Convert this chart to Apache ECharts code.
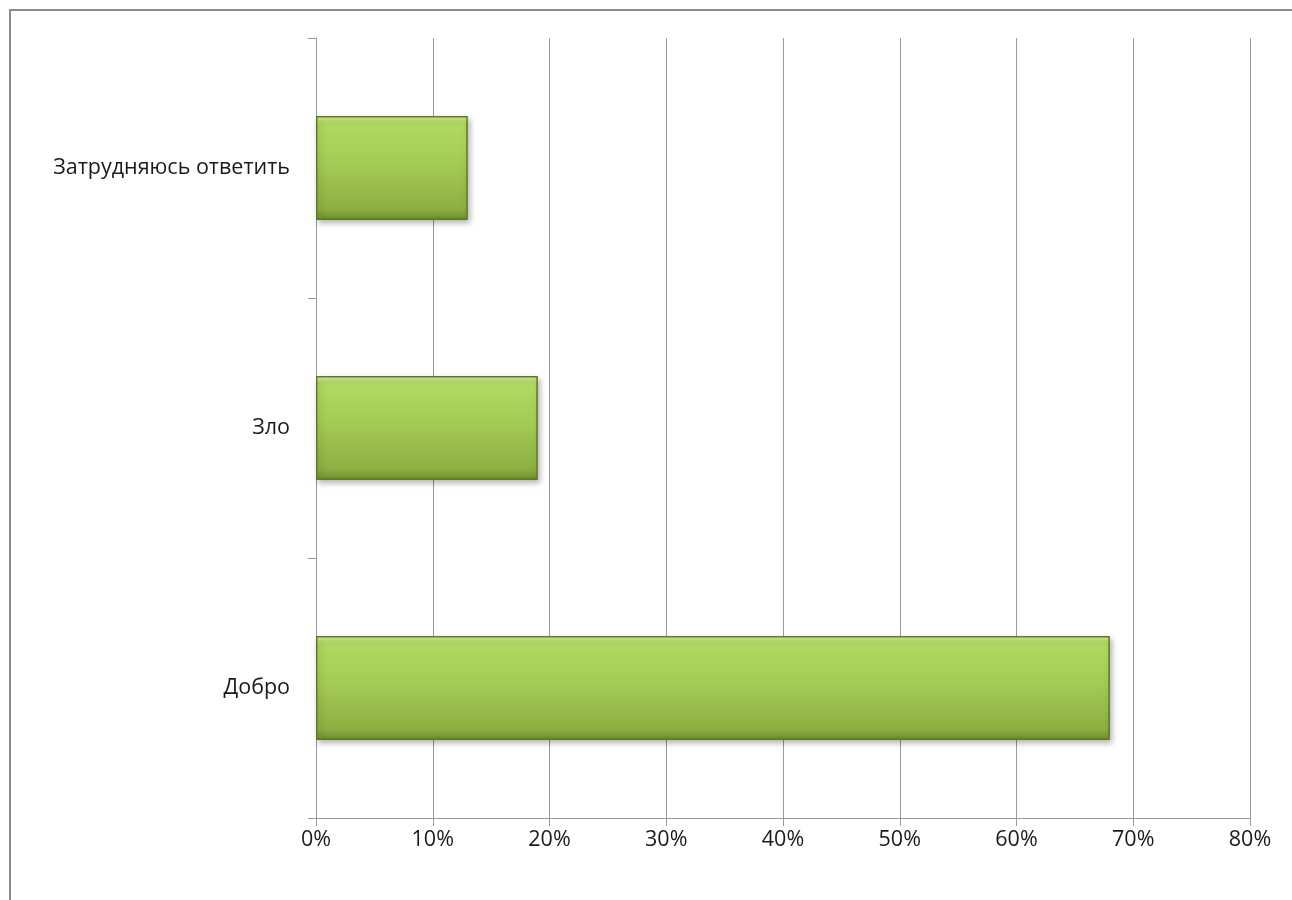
<!DOCTYPE html>
<html><head><meta charset="utf-8">
<script src="https://cdn.jsdelivr.net/npm/echarts@6/dist/echarts.min.js"></script>
<style>html,body{margin:0;padding:0;background:#fff}#c{width:1292px;height:900px}</style>
</head><body><div id="c"></div>
<script>
const categories = ['Добро', 'Зло', 'Затрудняюсь ответить'];
const values = [68, 19, 13];
const xTicks = [0, 10, 20, 30, 40, 50, 60, 70, 80];

const chart = echarts.init(document.getElementById('c'));
const font = '"Open Sans", "Liberation Sans", sans-serif';
chart.setOption({
  animation: false,
  graphic: [{
    type: 'rect', shape: {x: 10, y: 10, width: 1400, height: 1000},
    style: {fill: 'none', stroke: '#8a8a8a', lineWidth: 2}, z: -10
  }],
  grid: {left: 316, right: 42, top: 38, bottom: 82},
  xAxis: {
    type: 'value', min: xTicks[0], max: xTicks[xTicks.length - 1], interval: 10,
    axisLine: {show: true, lineStyle: {color: '#9a9a9a', width: 1}},
    axisTick: {show: true, length: 8, lineStyle: {color: '#9a9a9a'}},
    splitLine: {show: true, lineStyle: {color: '#9a9a9a', width: 1}},
    axisLabel: {formatter: '{value}%', color: '#1a1a1a', fontSize: 21.5, fontFamily: font, margin: 11}
  },
  yAxis: {
    type: 'category', data: categories,
    axisLine: {show: true, lineStyle: {color: '#9a9a9a', width: 1}},
    axisTick: {show: true, length: 8, lineStyle: {color: '#9a9a9a'}},
    axisLabel: {color: '#1a1a1a', fontSize: 21.5, fontFamily: font, margin: 26}
  },
  series: [{
    type: 'bar', data: values, barWidth: '40%',
    itemStyle: {
      color: new echarts.graphic.LinearGradient(0, 0, 0, 1, [
        {offset: 0, color: '#d6f292'},
        {offset: 0.07, color: '#b2da62'},
        {offset: 0.45, color: '#a4cc54'},
        {offset: 0.9, color: '#8cae42'},
        {offset: 1, color: '#6e8c30'}
      ]),
      borderColor: '#5e7a26', borderWidth: 1.5,
      shadowColor: 'rgba(0,0,0,0.3)', shadowBlur: 6, shadowOffsetX: 2, shadowOffsetY: 3
    }
  }]
});
</script></body></html>
